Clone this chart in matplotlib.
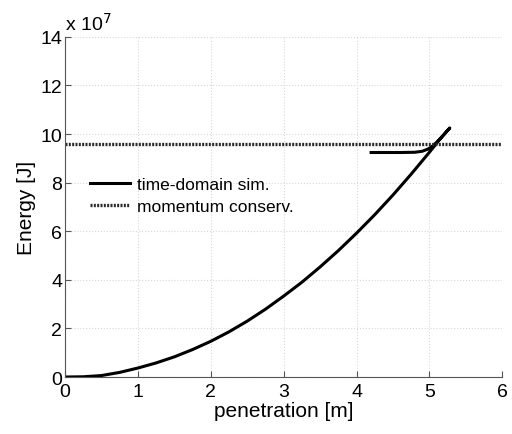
import matplotlib.pyplot as plt
import numpy as np

plt.rcParams['font.family'] = ['Liberation Sans', 'DejaVu Sans']

# time-domain simulation (energy in units of 1e7 J), loading then unloading branch
pen_load = [0.0, 0.25, 0.5, 0.75, 1.0, 1.25, 1.5, 1.75, 2.0, 2.25, 2.5, 2.75, 3.0,
            3.25, 3.5, 3.75, 4.0, 4.25, 4.5, 4.75, 5.0, 5.15, 5.28]
en_load = [0.0, 0.01, 0.06, 0.19, 0.37, 0.58, 0.83, 1.13, 1.47, 1.86, 2.30, 2.79, 3.33,
           3.90, 4.53, 5.20, 5.92, 6.68, 7.49, 8.35, 9.25, 9.81, 10.25]
pen_unload = [5.28, 5.2, 5.12, 5.05, 4.98, 4.9, 4.8, 4.6, 4.4, 4.2]
en_unload = [10.25, 9.98, 9.72, 9.52, 9.38, 9.29, 9.25, 9.24, 9.24, 9.24]

# momentum conservation estimate
e_momentum = 9.6

pen = pen_load + pen_unload
en = en_load + en_unload

fig = plt.figure(figsize=(5.12, 4.35), dpi=100)
ax = fig.add_axes([0.127, 0.131, 0.854, 0.782])

ax.plot(pen, en, color='black', lw=2.2, label='time-domain sim.')
ax.axhline(e_momentum, color='#2a2a2a', lw=2.4, ls=(0, (0.6, 0.4)), label='momentum conserv.')

ax.set_xlim(0, 6)
ax.set_ylim(0, 14)
ax.set_xticks(np.arange(0, 7, 1))
ax.set_yticks(np.arange(0, 15, 2))
ax.grid(True, color='#d8d8d8', ls=':', lw=0.8)
ax.tick_params(direction='in', length=4, labelsize=14, color='#555555')
ax.tick_params(axis='x', pad=4)
ax.tick_params(axis='y', pad=2)
for s in ['top', 'right']:
    ax.spines[s].set_visible(False)
for s in ['left', 'bottom']:
    ax.spines[s].set_color('#555555')

ax.set_xlabel('penetration [m]', fontsize=15, labelpad=1)
ax.set_ylabel('Energy [J]', fontsize=15, labelpad=3)
ax.text(0.0, 1.008, r'x 10$^{7}$', transform=ax.transAxes, fontsize=14, ha='left', va='bottom')

ax.legend(loc='upper left', bbox_to_anchor=(0.041, 0.61), frameon=False, fontsize=12.5,
          handlelength=2.3, handletextpad=0.4, labelspacing=0.4, borderaxespad=0)

plt.savefig('out.png')
